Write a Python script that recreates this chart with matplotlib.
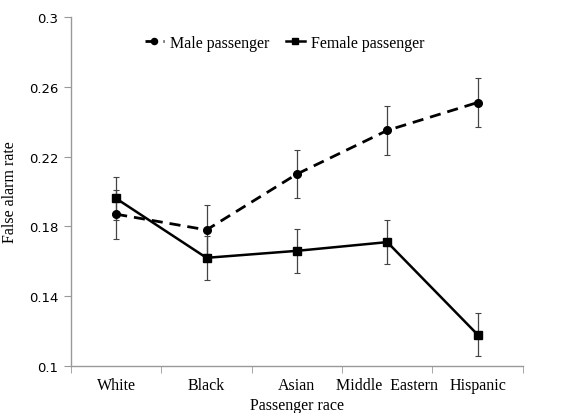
import numpy as np
import matplotlib
matplotlib.use('Agg')
import matplotlib.pyplot as plt

races = ['White', 'Black', 'Asian', 'Middle  Eastern', 'Hispanic']
male = [0.187, 0.178, 0.210, 0.235, 0.251]
male_err = [0.014, 0.014, 0.014, 0.014, 0.014]
female = [0.196, 0.162, 0.166, 0.171, 0.118]
female_err = [0.0125, 0.0125, 0.0125, 0.0125, 0.0125]
yticks = [0.1, 0.14, 0.18, 0.22, 0.26, 0.3]
ytick_labels = ['0.1', '0.14', '0.18', '0.22', '0.26', '0.3']

serif = 'Liberation Serif'
x = np.arange(len(races))

fig = plt.figure(figsize=(5.77, 4.14), dpi=100)
ax = fig.add_axes([0.123, 0.1135, 0.783, 0.843])

ax.errorbar(x, male, yerr=male_err, fmt='none', ecolor='#444444',
            elinewidth=0.9, capsize=2.5, capthick=0.8, zorder=2)
ax.errorbar(x, female, yerr=female_err, fmt='none', ecolor='#444444',
            elinewidth=0.9, capsize=2.5, capthick=0.8, zorder=2)
ax.plot(x, male, color='black', linestyle=(0, (4, 2.5)), linewidth=2,
        marker='o', markersize=5.5, label='Male passenger', zorder=3)
ax.plot(x, female, color='black', linestyle='-', linewidth=1.8,
        marker='s', markersize=5.5, label='Female passenger', zorder=3)

ax.set_xlim(-0.5, len(races) - 0.5)
ax.set_ylim(0.1, 0.3)
ax.set_xticks(x)
ax.set_xticklabels(races, fontfamily=serif, fontsize=11.5)
ax.set_xticks(np.arange(-0.5, len(races), 1.0), minor=True)
ax.tick_params(axis='x', which='major', length=0, pad=8)
ax.tick_params(axis='x', which='minor', length=5, color='#999999', direction='out')
ax.set_yticks(yticks)
ax.set_yticklabels(ytick_labels, fontsize=9.5)
ax.tick_params(axis='y', length=5, color='#999999', direction='out', pad=4)

for side in ['top', 'right']:
    ax.spines[side].set_visible(False)
for side in ['left', 'bottom']:
    ax.spines[side].set_color('#999999')
    ax.spines[side].set_linewidth(1)

ax.set_xlabel('Passenger race', fontfamily=serif, fontsize=11.5)
ax.xaxis.set_label_coords(0.5, -0.09)
ax.set_ylabel('False alarm rate', fontfamily=serif, fontsize=11.5)
ax.yaxis.set_label_coords(-0.117, 0.5)

ax.legend(loc='upper center', bbox_to_anchor=(0.473, 0.99), ncol=2, frameon=False,
          prop={'family': serif, 'size': 11.5}, handlelength=1.2,
          handletextpad=0.4, columnspacing=1.0, markerscale=0.8)

fig.savefig('out.png', dpi=100)
